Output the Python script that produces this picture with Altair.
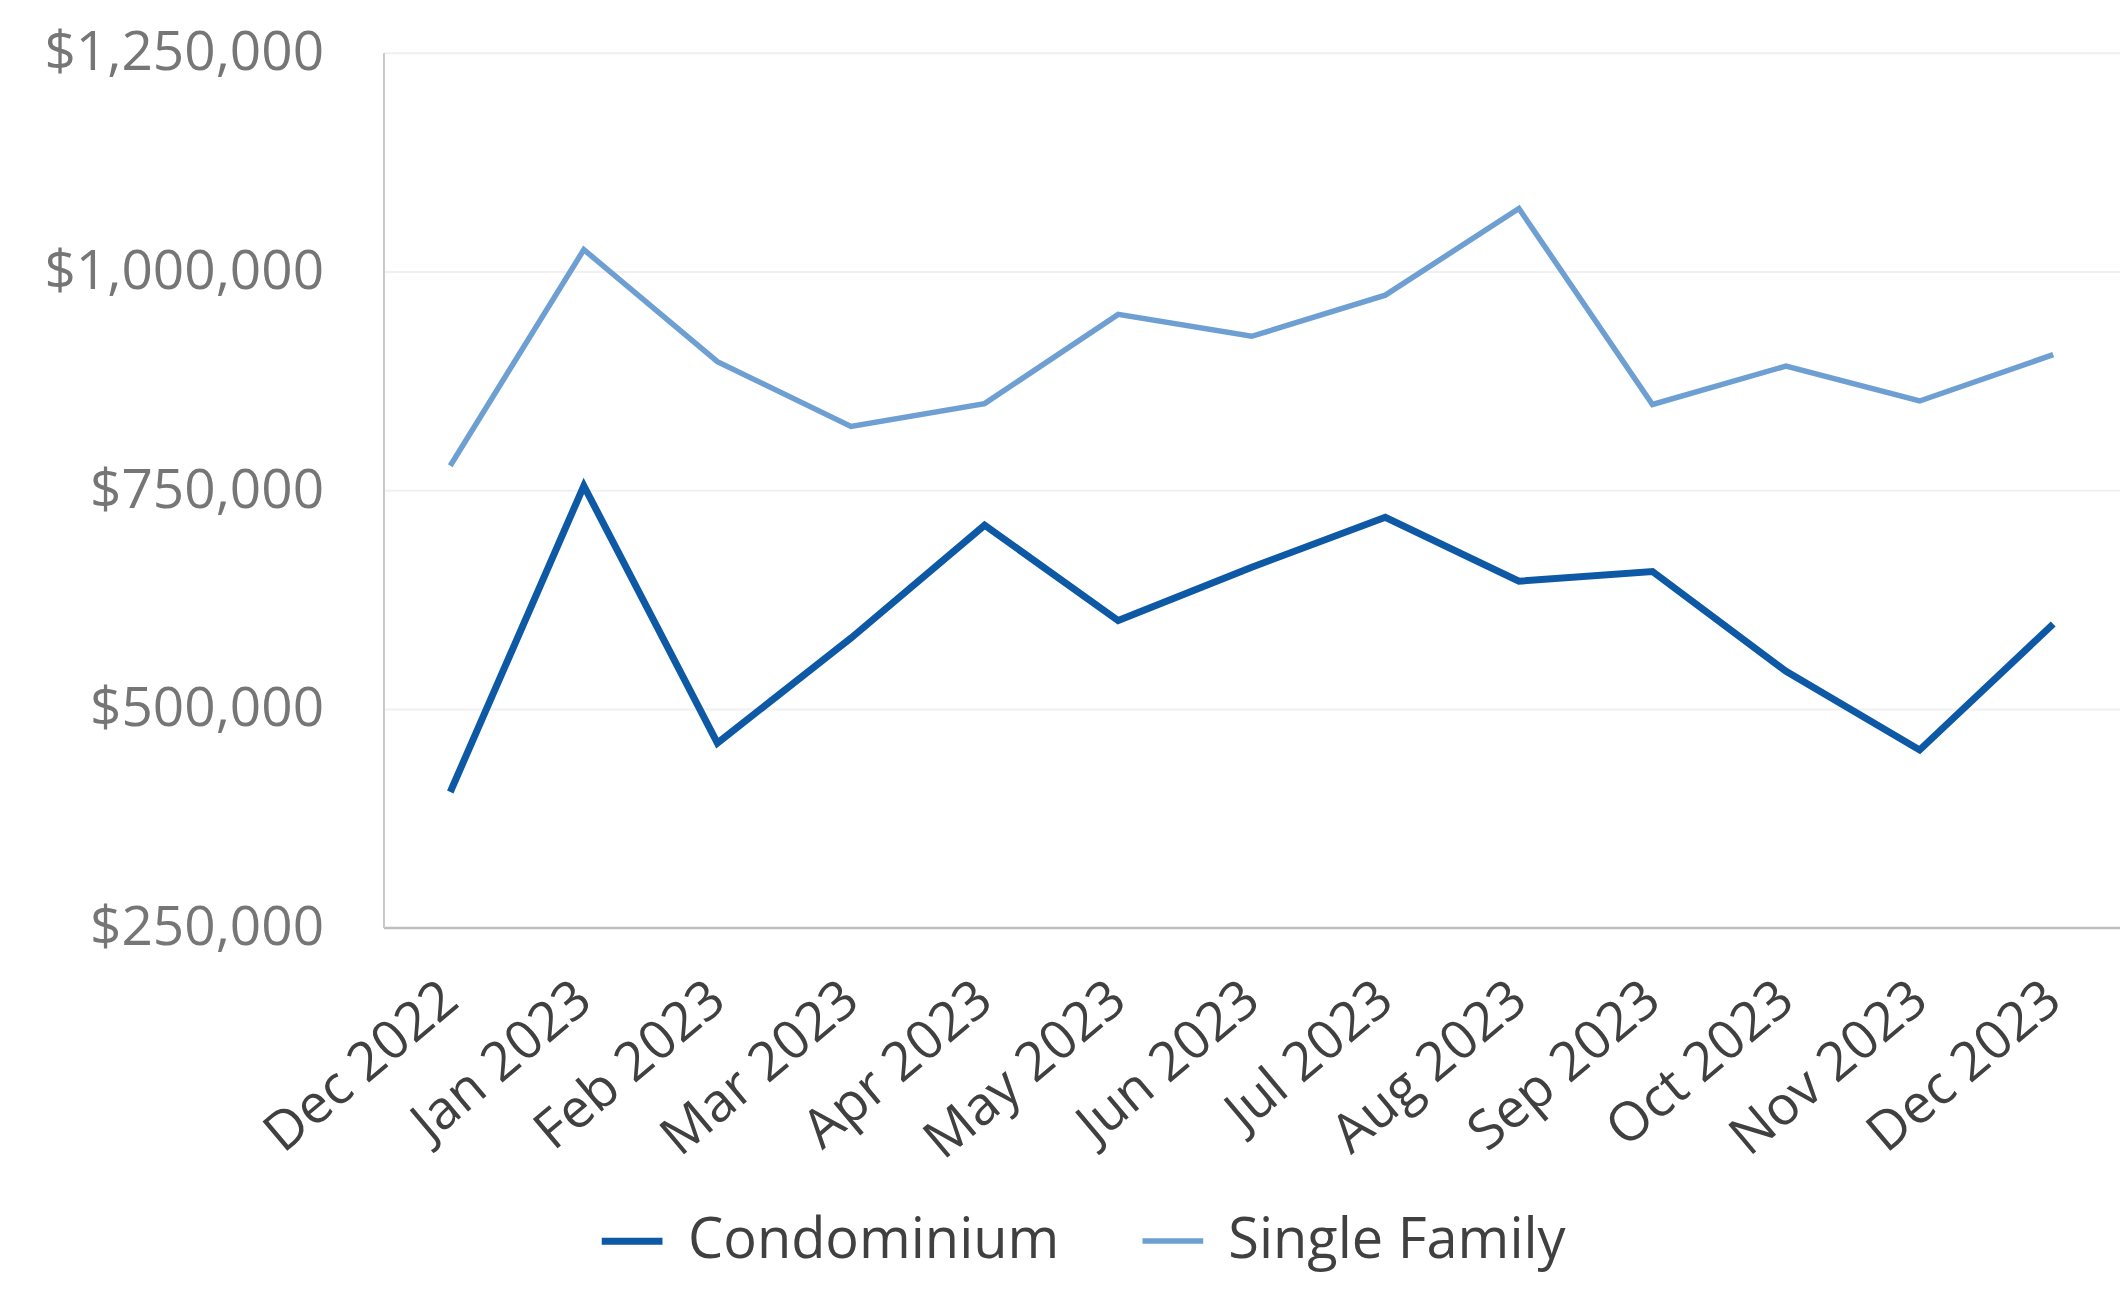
import altair as alt
import pandas as pd

months = ["Dec 2022", "Jan 2023", "Feb 2023", "Mar 2023", "Apr 2023", "May 2023", "Jun 2023",
          "Jul 2023", "Aug 2023", "Sep 2023", "Oct 2023", "Nov 2023", "Dec 2023"]
condominium = [405000, 755000, 461000, 581000, 710000, 601000, 662000, 719000, 646000, 657000, 543000, 453000, 597000]
single_family = [778000, 1025000, 897000, 823000, 849000, 951000, 926000, 973000, 1072000, 848000, 892000, 852000, 905000]
series_names = ["Condominium", "Single Family"]
series_colors = ["#0E59A6", "#6E9FD2"]
y_ticks = [250000, 500000, 750000, 1000000, 1250000]

rows = []
for m, v in zip(months, condominium):
    rows.append({"month": m, "value": v, "series": "Condominium"})
for m, v in zip(months, single_family):
    rows.append({"month": m, "value": v, "series": "Single Family"})
df = pd.DataFrame(rows)

FONT = "Open Sans"

chart = alt.Chart(df).mark_line().encode(
    x=alt.X("month:N", sort=months, title=None,
            scale=alt.Scale(type="point", padding=0.5),
            axis=alt.Axis(labelAngle=-40, labelAlign="right", labelBaseline="top",
                          labelFontSize=54, labelColor="#404040", labelFont=FONT,
                          labelPadding=44, labelOffset=-17, ticks=False,
                          domainColor="#bfbfbf", domainWidth=2.5, grid=False,
                          labelOverlap=False, labelLimit=600)),
    y=alt.Y("value:Q", title=None,
            scale=alt.Scale(domain=[250000, 1250000], nice=False, zero=False),
            axis=alt.Axis(values=y_ticks, format="$,.0f", labelFontSize=55,
                          labelColor="#767676", labelFont=FONT, labelPadding=60,
                          ticks=False, domainColor="#c8c8c8", domainWidth=2,
                          gridColor="#f0f0f0", gridWidth=2, labelLimit=600)),
    color=alt.Color("series:N", sort=series_names,
                    scale=alt.Scale(domain=series_names, range=series_colors),
                    legend=alt.Legend(title=None, orient="none", direction="horizontal",
                                      legendX=215, legendY=1156,
                                      symbolType="stroke", symbolSize=3700,
                                      symbolStrokeWidth=7, labelFontSize=56,
                                      labelFont=FONT, labelColor="#404040",
                                      labelOffset=22, columnPadding=72,
                                      labelLimit=600)),
    strokeWidth=alt.StrokeWidth("series:N", sort=series_names,
                                scale=alt.Scale(domain=series_names, range=[7, 5.5]),
                                legend=None),
).properties(
    width=1739,
    height=876,
    autosize=alt.AutoSizeParams(type="none"),
    padding={"left": 376, "top": 44, "right": 0, "bottom": 350},
).configure_view(stroke=None).configure(background="white")

chart.save("out.html", embed_options={"renderer": "svg", "actions": False})
